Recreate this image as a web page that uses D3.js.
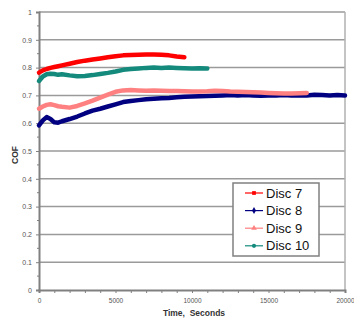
<!DOCTYPE html>
<html>
<head>
<meta charset="utf-8">
<script src="https://cdn.jsdelivr.net/npm/d3@7"></script>
<style>
  body { margin: 0; background: #fff; }
  svg { display: block; font-family: "Liberation Sans", Arial, sans-serif; }
</style>
</head>
<body>
<svg id="chart" width="354" height="321"></svg>
<script>
// sample times (seconds), shared by all series
const times = [0, 250, 500, 750, 1000, 1250, 1500, 2000, 2500, 3000, 3500, 4000, 4500, 5000,
  5500, 6000, 6500, 7000, 7500, 8000, 8500, 9000, 9500, 10000, 10500, 11000, 11500, 12000,
  12500, 13000, 13500, 14000, 14500, 15000, 15500, 16000, 16500, 17000, 17500, 18000, 18500,
  19000, 19500, 20000];

const disc7 = [0.782, 0.790, 0.795, 0.799, 0.802, 0.805, 0.808, 0.814, 0.820, 0.825, 0.829,
  0.833, 0.837, 0.841, 0.844, 0.845, 0.846, 0.847, 0.847, 0.846, 0.844, 0.840, 0.837];

const disc8 = [0.592, 0.610, 0.622, 0.615, 0.603, 0.602, 0.607, 0.615, 0.624, 0.635, 0.645,
  0.652, 0.660, 0.668, 0.676, 0.680, 0.683, 0.686, 0.688, 0.690, 0.691, 0.693, 0.695, 0.696,
  0.697, 0.698, 0.699, 0.700, 0.701, 0.700, 0.701, 0.700, 0.699, 0.700, 0.700, 0.701, 0.700,
  0.700, 0.700, 0.702, 0.701, 0.700, 0.701, 0.700];

const disc9 = [0.652, 0.660, 0.666, 0.668, 0.665, 0.661, 0.659, 0.656, 0.662, 0.671, 0.681,
  0.692, 0.703, 0.713, 0.718, 0.719, 0.718, 0.717, 0.718, 0.717, 0.716, 0.716, 0.715, 0.714,
  0.714, 0.715, 0.717, 0.716, 0.714, 0.713, 0.712, 0.711, 0.710, 0.709, 0.708, 0.707, 0.707,
  0.708, 0.709];

const disc10 = [0.752, 0.768, 0.776, 0.778, 0.777, 0.774, 0.776, 0.772, 0.769, 0.770, 0.773,
  0.777, 0.781, 0.786, 0.792, 0.795, 0.797, 0.799, 0.800, 0.799, 0.800, 0.799, 0.798, 0.797,
  0.798, 0.797];

const seriesNames = ["Disc 7", "Disc 8", "Disc 9", "Disc 10"];
const seriesValues = [disc7, disc8, disc9, disc10];
const seriesColors = ["#ff0000", "#000080", "#ff8080", "#138a7c"];
const seriesMarkers = [d3.symbolSquare, d3.symbolDiamond, d3.symbolTriangle, d3.symbolCircle];

const yTicks = [0, 0.1, 0.2, 0.3, 0.4, 0.5, 0.6, 0.7, 0.8, 0.9, 1];
const xTicks = [0, 5000, 10000, 15000, 20000];

const margin = {top: 12, right: 9, bottom: 31, left: 39};
const width = 354, height = 321;

const svg = d3.select("#chart");

const x = d3.scaleLinear().domain([0, 20000]).range([margin.left, width - margin.right]);
const y = d3.scaleLinear().domain([0, 1]).range([height - margin.bottom, margin.top]);

// grid lines
svg.append("g")
  .selectAll("line")
  .data(yTicks.slice(1))
  .join("line")
  .attr("x1", x(0)).attr("x2", x(20000))
  .attr("y1", d => y(d)).attr("y2", d => y(d))
  .attr("stroke", "#9a9a9a")
  .attr("stroke-width", 1.5);

// right frame
svg.append("line")
  .attr("x1", x(20000)).attr("x2", x(20000))
  .attr("y1", y(0)).attr("y2", y(1))
  .attr("stroke", "#b0b0b0")
  .attr("stroke-width", 1.5);

// y axis
const yAxis = svg.append("g")
  .attr("transform", `translate(${x(0)},0)`)
  .call(d3.axisLeft(y).tickValues(yTicks).tickSize(3).tickPadding(4)
    .tickFormat(d => d3.format("")(+d.toFixed(1))));
yAxis.select(".domain").attr("stroke", "#808080").attr("stroke-width", 2);
yAxis.selectAll(".tick line").attr("stroke", "#808080");
yAxis.selectAll(".tick text").attr("font-size", 7).attr("fill", "#555");

// minor y ticks
svg.append("g")
  .selectAll("line")
  .data(d3.range(0.05, 1, 0.1))
  .join("line")
  .attr("x1", x(0) - 2).attr("x2", x(0))
  .attr("y1", d => y(d)).attr("y2", d => y(d))
  .attr("stroke", "#808080");

// x axis
const xAxis = svg.append("g")
  .attr("transform", `translate(0,${y(0)})`)
  .call(d3.axisBottom(x).tickValues(d3.range(0, 20001, 1000)).tickSize(3)
    .tickFormat(d => xTicks.includes(d) ? d : ""));
xAxis.select(".domain").attr("stroke", "#808080").attr("stroke-width", 2);
xAxis.selectAll(".tick line").attr("stroke", "#808080");
xAxis.selectAll(".tick text").attr("font-size", 6.5).attr("fill", "#555").attr("dy", "1.1em");

// axis titles
svg.append("text")
  .attr("x", x(10000) + 2).attr("y", 316)
  .attr("text-anchor", "middle")
  .attr("font-size", 8.5).attr("font-weight", "bold").attr("fill", "#333")
  .attr("xml:space", "preserve")
  .text("Time,  Seconds");

svg.append("text")
  .attr("transform", "translate(18,155) rotate(-90)")
  .attr("text-anchor", "middle")
  .attr("font-size", 8.5).attr("font-weight", "bold").attr("fill", "#333")
  .text("COF");

// series
const line = d3.line()
  .x((d, i) => x(times[i]))
  .y(d => y(d));

svg.append("g")
  .selectAll("path")
  .data(seriesValues)
  .join("path")
  .attr("d", d => line(d))
  .attr("fill", "none")
  .attr("stroke", (d, i) => seriesColors[i])
  .attr("stroke-width", 4.5)
  .attr("stroke-linejoin", "round")
  .attr("stroke-linecap", "round");

// legend
const legend = svg.append("g").attr("transform", "translate(233,183)");
legend.append("rect")
  .attr("width", 86).attr("height", 73)
  .attr("fill", "#fff")
  .attr("stroke", "#808080")
  .attr("stroke-width", 1.5);

const rows = legend.selectAll("g")
  .data(seriesNames)
  .join("g")
  .attr("transform", (d, i) => `translate(0,${10 + i * 17.6})`);

rows.append("line")
  .attr("x1", 12).attr("x2", 30)
  .attr("stroke", (d, i) => seriesColors[i])
  .attr("stroke-width", 1.2);

rows.append("path")
  .attr("transform", "translate(21,0)")
  .attr("d", (d, i) => d3.symbol(seriesMarkers[i], 14)())
  .attr("fill", (d, i) => seriesColors[i]);

rows.append("text")
  .attr("x", 33).attr("y", 0)
  .attr("dy", "0.36em")
  .attr("font-size", 13)
  .attr("fill", "#111")
  .text(d => d);
</script>
</body>
</html>
